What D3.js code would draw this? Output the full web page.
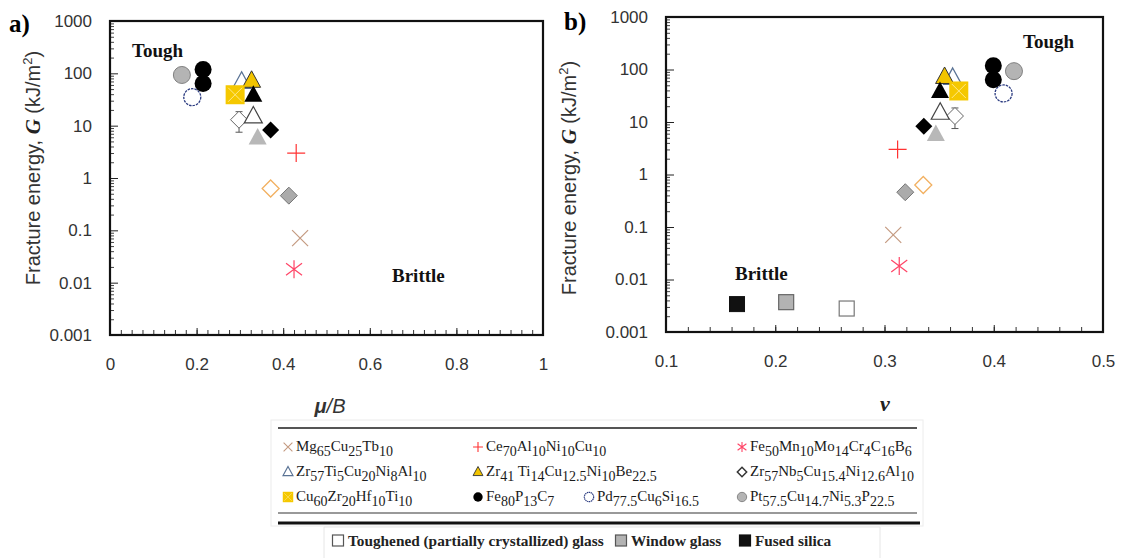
<!DOCTYPE html>
<html><head><meta charset="utf-8">
<script src="https://cdn.jsdelivr.net/npm/d3@7"></script>
<style>body{margin:0;background:#fff;} svg{display:block;}</style>
</head><body>
<svg id="c" width="1121" height="558"></svg>
<script>
// ---------------- DATA ----------------
const pointKeys = ["Pt","Pd","Fe80a","Fe80b","ZrTiOpenBlue","Zr41","Cu60","blackTri","ZrNb","ZrTiOpen","blackDia","greyTri","Ce70","orangeDia","greyDia","Mg65","Fe50"];
const G_values   = [93, 35, 118, 64, 69, 72, 39, 38, 13, 15, 8.3, 5.8, 3.0, 0.63, 0.46, 0.071, 0.018];
const muB_values = [0.166, 0.19, 0.215, 0.215, 0.304, 0.327, 0.289, 0.331, 0.298, 0.331, 0.371, 0.341, 0.43, 0.371, 0.413, 0.439, 0.425];
const nu_values  = [0.4185, 0.409, 0.3996, 0.3996, 0.3624, 0.355, 0.368, 0.3508, 0.3645, 0.351, 0.336, 0.347, 0.312, 0.3355, 0.319, 0.308, 0.3135];
const zrNbError  = [7.5, 18.5];

const glassKeys = ["sqBlack","sqGrey","sqOpen"];
const glassNames = ["Fused silica","Window glass","Toughened (partially crystallized) glass"];
const glassNu = [0.165, 0.21, 0.2654];
const glassG  = [0.0034, 0.0037, 0.0028];

const yTicks = [1000,100,10,1,0.1,0.01,0.001];
const yTickLabels = ["1000","100","10","1","0.1","0.01","0.001"];
const xTicksA = [0,0.2,0.4,0.6,0.8,1];
const xTickLabelsA = ["0","0.2","0.4","0.6","0.8","1"];
const xTicksB = [0.1,0.2,0.3,0.4,0.5];
const xTickLabelsB = ["0.1","0.2","0.3","0.4","0.5"];

const legendRows = [
  [["Mg65","Mg_{65}Cu_{25}Tb_{10}"],["Ce70","Ce_{70}Al_{10}Ni_{10}Cu_{10}"],["Fe50","Fe_{50}Mn_{10}Mo_{14}Cr_{4}C_{16}B_{6}"]],
  [["ZrTiOpenBlue","Zr_{57}Ti_{5}Cu_{20}Ni_{8}Al_{10}"],["Zr41","Zr_{41} Ti_{14}Cu_{12.5}Ni_{10}Be_{22.5}"],["ZrNbLeg","Zr_{57}Nb_{5}Cu_{15.4}Ni_{12.6}Al_{10}"]],
  [["Cu60","Cu_{60}Zr_{20}Hf_{10}Ti_{10}"],["Fe80a","Fe_{80}P_{13}C_{7}"],["Pd","Pd_{77.5}Cu_{6}Si_{16.5}"],["Pt","Pt_{57.5}Cu_{14.7}Ni_{5.3}P_{22.5}"]]
];

// ---------------- STYLES ----------------
const S = {
  Pt:{shape:"circle",fill:"#b4b4b4",stroke:"#808080",sw:1},
  Pd:{shape:"circle",fill:"#fff",stroke:"#2b3b80",sw:1.3,dash:"2.5,1"},
  Fe80a:{shape:"circle",fill:"#000",stroke:"none"},
  Fe80b:{shape:"circle",fill:"#000",stroke:"none"},
  ZrTiOpenBlue:{shape:"tri",fill:"#fff",stroke:"#5a7395",sw:1.3},
  Zr41:{shape:"tri",fill:"#f2c400",stroke:"#333",sw:1},
  Cu60:{shape:"ysq",fill:"#f5c800",stroke:"none"},
  blackTri:{shape:"tri",fill:"#000",stroke:"none"},
  ZrNb:{shape:"dia",fill:"#fff",stroke:"#666",sw:1},
  ZrNbLeg:{shape:"dia",fill:"#fff",stroke:"#333",sw:1.6},
  ZrTiOpen:{shape:"tri",fill:"#fff",stroke:"#444",sw:1.2},
  blackDia:{shape:"dia",fill:"#000",stroke:"none"},
  greyTri:{shape:"tri",fill:"#b8b8b8",stroke:"none"},
  Ce70:{shape:"plus",fill:"none",stroke:"#ff3333",sw:1.2},
  orangeDia:{shape:"dia",fill:"#fff",stroke:"#f2b060",sw:1.3},
  greyDia:{shape:"dia",fill:"#ababab",stroke:"#777",sw:1},
  Mg65:{shape:"cross",fill:"none",stroke:"#c49a80",sw:1.2},
  Fe50:{shape:"star",fill:"none",stroke:"#ff4466",sw:1.2},
  sqBlack:{shape:"gsq",fill:"#111",stroke:"#111",sw:1},
  sqGrey:{shape:"gsq",fill:"#b3b3b3",stroke:"#666",sw:1.2},
  sqOpen:{shape:"gsq",fill:"#fff",stroke:"#777",sw:1.2}
};

const svg = d3.select("#c");
const SANS = "'Liberation Sans', Arial, sans-serif";
const SERIF = "'Liberation Serif', 'Times New Roman', serif";

function marker(g, key, x, y, k) {
  const st = S[key];
  const m = g.append("g").attr("transform", `translate(${x},${y}) scale(${k})`);
  let el;
  switch (st.shape) {
    case "circle": el = m.append("circle").attr("r", 8.5); break;
    case "tri": el = m.append("path").attr("d", "M0,-10L9,6.5L-9,6.5Z"); break;
    case "dia": el = m.append("path").attr("d", "M0,-8.5L8.5,0L0,8.5L-8.5,0Z"); break;
    case "gsq": el = m.append("rect").attr("x",-7.5).attr("y",-7.5).attr("width",15).attr("height",15); break;
    case "ysq":
      el = m.append("rect").attr("x",-9.5).attr("y",-9.5).attr("width",19).attr("height",19);
      m.append("path").attr("d","M-7,-7L7,7M-7,7L7,-7").attr("stroke","#ffe98a").attr("stroke-width",1).attr("fill","none");
      break;
    case "plus": el = m.append("path").attr("d", "M-9,0H9M0,-9V9"); break;
    case "cross": el = m.append("path").attr("d", "M-8,-8L8,8M-8,8L8,-8"); break;
    case "star": el = m.append("path").attr("d", "M0,-9V9M-8,-6L8,6M-8,6L8,-6"); break;
  }
  if (st.shape === "ysq") { el.lower(); }
  el.attr("fill", st.fill).attr("stroke", st.stroke).attr("stroke-width", (st.sw||1)/Math.max(k,0.6));
  if (st.dash) el.attr("stroke-dasharray", st.dash);
  return m;
}

function formula(g, x, y, str, size, subSize) {
  const t = g.append("text").attr("x", x).attr("y", y)
    .attr("font-family", SERIF).attr("font-size", size).attr("fill", "#1a1a1a");
  const parts = str.split(/(_\{[^}]*\})/).filter(p => p.length);
  let low = false;
  parts.forEach(p => {
    if (p.startsWith("_{")) {
      t.append("tspan").attr("dy", low ? 0 : 5).attr("font-size", subSize).text(p.slice(2, -1));
      low = true;
    } else {
      t.append("tspan").attr("dy", low ? -5 : 0).text(p);
      low = false;
    }
  });
  return t;
}

function panel(cfg) {
  const g = svg.append("g");
  const x = d3.scaleLinear().domain(cfg.xDomain).range([cfg.left, cfg.right]);
  const y = d3.scaleLog().domain([0.001, 1000]).range([cfg.bottom, cfg.top]);

  const minorY = [];
  for (let e = -3; e < 3; e++) for (let m = 2; m <= 9; m++) minorY.push(m * Math.pow(10, e));
  g.append("g").attr("transform", `translate(${cfg.left},0)`)
    .call(d3.axisLeft(y).tickValues(minorY).tickSize(-4).tickFormat(""))
    .call(a => a.select(".domain").remove())
    .call(a => a.selectAll("line").attr("stroke", "#444"));
  g.append("g").attr("transform", `translate(${cfg.left},0)`)
    .call(d3.axisLeft(y).tickValues(yTicks).tickSize(-8).tickPadding(18)
      .tickFormat((d, i) => yTickLabels[i]))
    .call(a => a.select(".domain").remove())
    .call(a => a.selectAll("line").attr("stroke", "#222"))
    .call(a => a.selectAll("text").attr("font-family", SANS).attr("font-size", 17).attr("fill", "#333"));

  g.append("g").attr("transform", `translate(0,${cfg.bottom})`)
    .call(d3.axisBottom(x).tickValues(cfg.xMinor).tickSize(-5).tickFormat(""))
    .call(a => a.select(".domain").remove())
    .call(a => a.selectAll("line").attr("stroke", "#333"));
  g.append("g").attr("transform", `translate(0,${cfg.bottom})`)
    .call(d3.axisBottom(x).tickValues(cfg.xTicks).tickSize(-7).tickPadding(23)
      .tickFormat((d, i) => cfg.xLabels[i]))
    .call(a => a.select(".domain").remove())
    .call(a => a.selectAll("line").attr("stroke", "#222"))
    .call(a => a.selectAll("text").attr("font-family", SANS).attr("font-size", 17).attr("fill", "#333"));

  g.append("rect").attr("x", cfg.left).attr("y", cfg.top)
    .attr("width", cfg.right - cfg.left).attr("height", cfg.bottom - cfg.top)
    .attr("fill", "none").attr("stroke", "#111").attr("stroke-width", 2.2);

  const yt = g.append("text").attr("transform", `translate(${cfg.yTitleX},${cfg.yTitleY}) rotate(-90)`)
    .attr("text-anchor", "middle").attr("font-family", SANS).attr("font-size", 20).attr("fill", "#333");
  yt.append("tspan").text("Fracture energy, ");
  yt.append("tspan").attr("font-family", SERIF).attr("font-weight", "bold").attr("font-style", "italic").attr("font-size", 21).attr("fill", "#222").text("G");
  yt.append("tspan").text(" (kJ/m");
  yt.append("tspan").attr("font-size", 13).attr("dy", -8).text("2");
  yt.append("tspan").attr("dy", 8).text(")");

  g.append("text").attr("x", cfg.labX).attr("y", cfg.labY).attr("font-family", SERIF)
    .attr("font-weight", "bold").attr("font-size", 25).attr("fill", "#000").text(cfg.label);

  g.append("text").attr("x", cfg.toughX).attr("y", cfg.toughY).attr("font-family", SERIF)
    .attr("font-weight", "bold").attr("font-size", 19).attr("fill", "#111").text("Tough");
  g.append("text").attr("x", cfg.brittleX).attr("y", cfg.brittleY).attr("font-family", SERIF)
    .attr("font-weight", "bold").attr("font-size", 19).attr("fill", "#111").text("Brittle");

  return {g, x, y};
}

const A = panel({
  xDomain: [0, 1], left: 110, right: 543, top: 21, bottom: 335,
  xTicks: xTicksA, xLabels: xTickLabelsA, xMinor: d3.range(0, 1.0001, 0.025),
  yTitleX: 40, yTitleY: 168, label: "a)", labX: 9, labY: 32,
  toughX: 132, toughY: 57, brittleX: 392, brittleY: 282
});
const B = panel({
  xDomain: [0.1, 0.5], left: 666, right: 1103, top: 17, bottom: 332,
  xTicks: xTicksB, xLabels: xTickLabelsB, xMinor: d3.range(0.1, 0.5001, 0.02),
  yTitleX: 576, yTitleY: 178, label: "b)", labX: 564, labY: 30,
  toughX: 1023, toughY: 48, brittleX: 735, brittleY: 280
});

glassKeys.forEach((k, i) => marker(B.g, k, B.x(glassNu[i]), B.y(glassG[i]), 1));

function errBar(P, xv) {
  const xi = P.x(xv);
  P.g.append("path")
    .attr("d", `M${xi},${P.y(zrNbError[0])}V${P.y(zrNbError[1])}M${xi-3.5},${P.y(zrNbError[0])}H${xi+3.5}M${xi-3.5},${P.y(zrNbError[1])}H${xi+3.5}`)
    .attr("stroke", "#555").attr("stroke-width", 1).attr("fill", "none");
}

pointKeys.forEach((k, i) => {
  if (k === "ZrNb") errBar(A, muB_values[i]);
  marker(A.g, k, A.x(muB_values[i]), A.y(G_values[i]), 1);
});
pointKeys.forEach((k, i) => {
  if (k === "ZrNb") errBar(B, nu_values[i]);
  marker(B.g, k, B.x(nu_values[i]), B.y(G_values[i]), 1);
});

const xa = svg.append("text").attr("x", 330).attr("y", 413).attr("text-anchor", "middle")
  .attr("font-family", SANS).attr("font-size", 20).attr("fill", "#333");
xa.append("tspan").attr("font-weight", "bold").attr("font-style", "italic").text("μ");
xa.append("tspan").attr("font-style", "italic").text("/B");
svg.append("text").attr("x", 885).attr("y", 411).attr("text-anchor", "middle")
  .attr("font-family", SERIF).attr("font-weight", "bold").attr("font-style", "italic")
  .attr("font-size", 22).attr("fill", "#222").text("ν");

// ---------- Legend ----------
const L = svg.append("g");
L.append("rect").attr("x", 271).attr("y", 420).attr("width", 652).attr("height", 106).attr("fill", "none").attr("stroke", "#ececec");
L.append("line").attr("x1", 278).attr("x2", 917).attr("y1", 428).attr("y2", 428).attr("stroke", "#555").attr("stroke-width", 2);
L.append("line").attr("x1", 278).attr("x2", 917).attr("y1", 513).attr("y2", 513).attr("stroke", "#777").attr("stroke-width", 1.5);
L.append("line").attr("x1", 278).attr("x2", 920).attr("y1", 523).attr("y2", 523).attr("stroke", "#111").attr("stroke-width", 3);
L.append("path").attr("d", "M324,558V527H880V558").attr("fill", "none").attr("stroke", "#e6e6e6");

const colX = [[288, 478, 742], [288, 478, 742], [288, 478, 589, 742]];
const rowY = [451, 476, 501];
legendRows.forEach((row, r) => {
  row.forEach((item, c) => {
    const mx = colX[r][c];
    marker(L, item[0], mx, rowY[r] - 4, 0.55);
    formula(L, mx + 8, rowY[r], item[1], 15, 14);
  });
});

const glassLegX = [745, 621, 338];
glassKeys.forEach((k, i) => {
  const gx = glassLegX[i];
  L.append("rect").attr("x", gx - 5.5).attr("y", 535).attr("width", 11).attr("height", 11)
    .attr("fill", S[k].fill).attr("stroke", k === "sqBlack" ? "#111" : "#555").attr("stroke-width", 1.2);
  L.append("text").attr("x", gx + 10).attr("y", 546).attr("font-family", SERIF)
    .attr("font-weight", "bold").attr("font-size", 15.3).attr("fill", "#222").text(glassNames[i]);
});
</script>
</body></html>
